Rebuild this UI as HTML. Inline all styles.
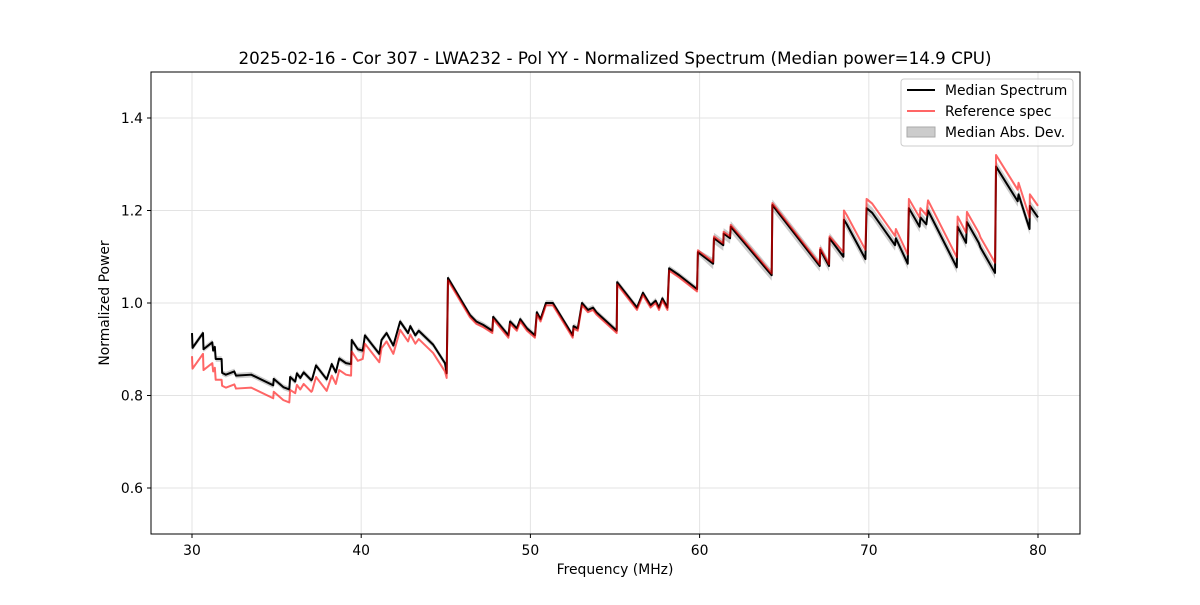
<!DOCTYPE html>
<html><head><meta charset="utf-8"><style>
body{margin:0;background:#fff}
svg text{font-family:"DejaVu Sans","Liberation Sans",sans-serif;fill:#000}
</style></head><body>
<svg id="chart" width="1200" height="600">
<rect x="0" y="0" width="1200" height="600" fill="#fff"/>
<text x="615" y="64" font-size="16.7" text-anchor="middle">2025-02-16 - Cor 307 - LWA232 - Pol YY - Normalized Spectrum (Median power=14.9 CPU)</text>
<g id="grid"></g><g id="ticks"></g><g id="series"></g>
<rect x="151" y="72" width="929" height="462" fill="none" stroke="#000" stroke-width="1"/>
<text x="615" y="574" font-size="13.9" text-anchor="middle">Frequency (MHz)</text>
<text x="109" y="303" font-size="13.9" text-anchor="middle" transform="rotate(-90 109 303)">Normalized Power</text>
<g>
<rect x="901" y="79" width="172" height="67" rx="3" fill="#fff" fill-opacity="0.8" stroke="#ccc"/>
<line x1="907" y1="90" x2="935" y2="90" stroke="#000" stroke-width="2"/>
<text x="945" y="95" font-size="13.9">Median Spectrum</text>
<line x1="907" y1="111" x2="935" y2="111" stroke="#f66" stroke-width="2"/>
<text x="945" y="116" font-size="13.9">Reference spec</text>
<rect x="907" y="127" width="28" height="10" fill="#ccc" stroke="#aaa"/>
<text x="945" y="137" font-size="13.9">Median Abs. Dev.</text>
</g>
</svg>
<script>
const freqs=[30,30.03,30.65,30.68,31.2,31.25,31.35,31.4,31.75,31.78,32.0,32.5,32.6,33.5,34.8,34.83,35.4,35.75,35.8,36.1,36.2,36.4,36.6,37.05,37.1,37.33,37.96,38.26,38.5,38.7,39.1,39.4,39.44,39.8,40.09,40.22,40.6,41.07,41.2,41.5,41.9,42.3,42.77,42.9,43.2,43.4,44.25,44.95,45.05,45.13,46.43,46.8,47.2,47.75,47.8,48.7,48.8,49.2,49.4,49.8,50.27,50.38,50.6,50.92,51.33,52.5,52.55,52.8,53.05,53.4,53.7,53.9,55.1,55.13,56.3,56.65,57.1,57.4,57.6,57.8,58.1,58.2,58.8,59.85,59.9,60.8,60.85,61.4,61.42,61.8,61.84,64.26,64.3,67.1,67.13,67.65,67.68,68.5,68.53,68.7,69.8,69.87,70.2,71.55,71.6,72.3,72.37,73.0,73.05,73.4,73.5,75.2,75.25,75.75,75.8,76.5,76.6,77.46,77.52,78.8,78.85,79.5,79.52,80];
const median=[0.935,0.903,0.935,0.9,0.915,0.897,0.905,0.879,0.879,0.849,0.845,0.852,0.843,0.845,0.822,0.836,0.818,0.813,0.84,0.83,0.848,0.838,0.85,0.833,0.835,0.865,0.835,0.868,0.85,0.88,0.87,0.868,0.92,0.9,0.897,0.93,0.912,0.89,0.92,0.935,0.908,0.96,0.935,0.95,0.93,0.94,0.91,0.87,0.848,1.054,0.974,0.96,0.953,0.94,0.97,0.93,0.96,0.945,0.965,0.945,0.93,0.98,0.965,1.0,1.0,0.93,0.95,0.945,1.0,0.985,0.99,0.98,0.94,1.045,0.99,1.022,0.995,1.005,0.99,1.01,0.99,1.075,1.06,1.03,1.11,1.085,1.14,1.125,1.15,1.14,1.165,1.06,1.212,1.08,1.115,1.08,1.14,1.1,1.18,1.17,1.095,1.205,1.195,1.125,1.14,1.085,1.205,1.165,1.185,1.17,1.2,1.077,1.165,1.13,1.175,1.13,1.12,1.065,1.295,1.22,1.235,1.16,1.21,1.185];
const reference=[0.885,0.858,0.89,0.855,0.87,0.852,0.86,0.834,0.834,0.821,0.817,0.824,0.815,0.817,0.794,0.808,0.79,0.785,0.812,0.805,0.823,0.813,0.825,0.808,0.81,0.84,0.81,0.843,0.825,0.855,0.845,0.843,0.895,0.875,0.879,0.912,0.894,0.872,0.902,0.917,0.89,0.942,0.917,0.932,0.912,0.922,0.892,0.852,0.838,1.049,0.969,0.955,0.948,0.935,0.965,0.925,0.955,0.94,0.96,0.94,0.925,0.975,0.96,0.995,0.995,0.925,0.945,0.94,0.995,0.98,0.985,0.975,0.935,1.04,0.985,1.017,0.99,1.0,0.985,1.005,0.985,1.07,1.055,1.025,1.114,1.089,1.144,1.129,1.154,1.144,1.169,1.064,1.216,1.084,1.119,1.084,1.144,1.11,1.2,1.19,1.115,1.225,1.215,1.145,1.16,1.105,1.225,1.185,1.205,1.19,1.222,1.099,1.187,1.152,1.197,1.152,1.142,1.087,1.32,1.245,1.26,1.185,1.235,1.21];
const madWidth=[0.006,0.012];
const xTicks=[30,40,50,60,70,80];
const yTicks=[0.6,0.8,1.0,1.2,1.4];
const NS='http://www.w3.org/2000/svg';
const X=f=>192+(f-30)*16.92;
const Y=v=>118+(1.4-v)*462.5;
const grid=document.getElementById('grid'),ticks=document.getElementById('ticks'),series=document.getElementById('series');
function mk(tag,attrs,parent){const e=document.createElementNS(NS,tag);for(const k in attrs)e.setAttribute(k,attrs[k]);parent.appendChild(e);return e;}
xTicks.forEach(t=>{
  const g=mk('line',{x1:X(t),x2:X(t),y1:72,y2:534,stroke:'#e3e3e3','stroke-width':1},grid);
  
  
  const tk=mk('line',{x1:X(t),x2:X(t),y1:534,y2:538,stroke:'#000'},ticks);
  
  
  const tx=mk('text',{x:X(t),y:555,'font-size':13.9,'text-anchor':'middle'},ticks);
  tx.textContent=t;
  
  
});
yTicks.forEach(t=>{
  const g=mk('line',{x1:151,x2:1080,y1:Y(t),y2:Y(t),stroke:'#e3e3e3','stroke-width':1},grid);
  
  
  const tk=mk('line',{x1:147,x2:151,y1:Y(t),y2:Y(t),stroke:'#000'},ticks);
  
  
  const tx=mk('text',{x:143,y:Y(t)+5,'font-size':13.9,'text-anchor':'end'},ticks);
  tx.textContent=t.toFixed(1);
  
  
});
const w=i=>freqs[i]>60?madWidth[1]:madWidth[0];
let up=freqs.map((f,i)=>X(f)+','+Y(median[i]+w(i))).join(' ');
let dn=freqs.map((f,i)=>X(f)+','+Y(median[i]-w(i))).reverse().join(' ');
const band=mk('polygon',{points:up+' '+dn,fill:'#999','fill-opacity':0.5},series);


const ml=mk('polyline',{points:freqs.map((f,i)=>X(f)+','+Y(median[i])).join(' '),fill:'none',stroke:'#000','stroke-width':2,'stroke-linejoin':'round'},series);


const rl=mk('polyline',{points:freqs.map((f,i)=>X(f)+','+Y(reference[i])).join(' '),fill:'none',stroke:'#f00','stroke-opacity':0.6,'stroke-width':2,'stroke-linejoin':'round'},series);


</script>
</body></html>
